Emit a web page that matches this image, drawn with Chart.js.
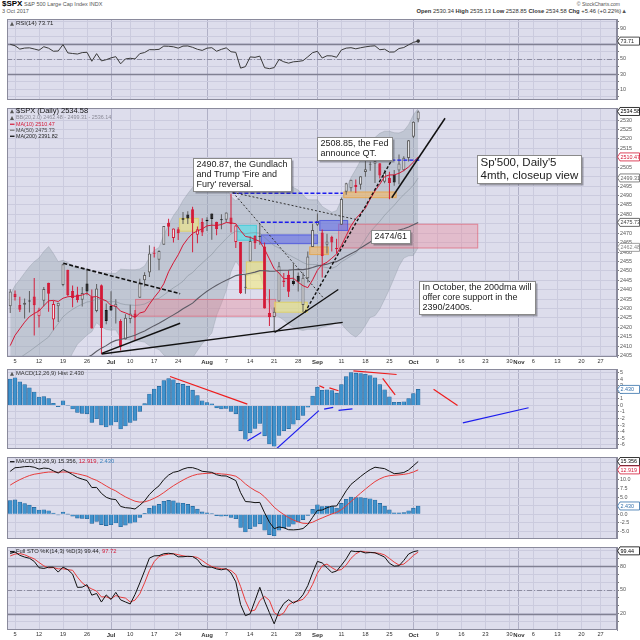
<!DOCTYPE html>
<html>
<head>
<meta charset="utf-8">
<title>$SPX Daily</title>
<script src="https://cdn.jsdelivr.net/npm/chart.js@4.4.1/dist/chart.umd.min.js"></script>
<style>
  html, body { margin: 0; padding: 0; background: #fff; }
  body { position: relative; width: 640px; height: 640px; overflow: hidden; font-family: "Liberation Sans", Arial, sans-serif; }
  canvas { position: absolute; left: 0; }
  .hd { position: absolute; white-space: nowrap; color: #555; line-height: 1; }
</style>
</head>
<body>
<div class="hd" style="left:2px;top:0px;font-size:5.5px"><b style="font-size:8px;color:#000">$SPX</b> S&amp;P 500 Large Cap Index INDX</div>
<div class="hd" style="left:2px;top:8.5px;font-size:5.5px">3 Oct 2017</div>
<div class="hd" style="right:20px;top:1.5px;font-size:5px">&copy; StockCharts.com</div>
<div class="hd" style="right:13px;top:8.5px;font-size:5.8px;color:#333"><b>Open</b> 2530.34 <b>High</b> 2535.13 <b>Low</b> 2528.85 <b>Close</b> 2534.58 <b>Chg</b> +5.46 (+0.22%)<span style="color:#555">&#9650;</span></div>

<canvas id="rsiChart" width="640" height="89" style="top:15px"></canvas>
<canvas id="priceChart" width="640" height="261" style="top:104px"></canvas>
<canvas id="histChart" width="640" height="88" style="top:365px"></canvas>
<canvas id="macdChart" width="640" height="90" style="top:453px"></canvas>
<canvas id="stoChart" width="640" height="97" style="top:543px"></canvas>

<script>
// ---------- data: $SPX daily, 2 Jun .. 3 Oct 2017 (trading-day index -1 .. 84) ----------
const firstIdx = -1;
const closeBefore = 2430.06; // 1 Jun close, used for candle colouring

const opens = [2431.28, 2437.83, 2431.92, 2432.03, 2434.27, 2436.39, 2425.88, 2434.15, 2443.75, 2424.14,
  2431.24, 2442.55, 2450.66, 2439.31, 2437.40, 2434.65, 2443.32, 2436.34, 2428.70, 2442.38,
  2429.20, 2431.39, 2430.78, 2423.44, 2413.52, 2424.51, 2427.35, 2435.75, 2444.99, 2449.16,
  2459.50, 2455.88, 2463.85, 2475.56, 2467.40, 2472.04, 2477.88, 2479.97, 2482.76, 2469.12,
  2475.94, 2477.10, 2480.38, 2476.03, 2476.88, 2477.14, 2478.35, 2465.35, 2465.38, 2441.04,
  2454.96, 2468.66, 2468.63, 2462.95, 2427.64, 2425.50, 2433.75, 2444.88, 2447.91, 2444.72,
  2447.35, 2431.94, 2446.06, 2462.65, 2474.42, 2470.35, 2463.83, 2468.06, 2462.25, 2474.52,
  2491.94, 2493.89, 2494.56, 2495.67, 2502.51, 2506.29, 2506.84, 2507.16, 2497.26, 2499.39,
  2501.04, 2503.30, 2503.41, 2509.96, 2521.20, 2530.34];
const highs = [2440.23, 2439.54, 2436.21, 2435.28, 2439.27, 2446.20, 2430.38, 2441.49, 2443.75, 2433.95,
  2433.15, 2453.82, 2450.66, 2442.23, 2441.62, 2441.40, 2450.42, 2440.15, 2442.97, 2442.73,
  2432.71, 2439.17, 2434.90, 2424.28, 2426.92, 2432.00, 2429.30, 2445.76, 2449.32, 2463.54,
  2462.82, 2460.92, 2473.83, 2477.62, 2472.54, 2473.10, 2481.24, 2481.69, 2484.04, 2473.53,
  2477.96, 2478.51, 2480.38, 2476.03, 2480.00, 2480.95, 2490.87, 2474.41, 2465.38, 2448.09,
  2468.22, 2468.90, 2474.93, 2465.02, 2440.27, 2430.58, 2454.77, 2448.91, 2450.39, 2453.96,
  2449.12, 2449.19, 2460.31, 2475.01, 2480.38, 2471.97, 2469.64, 2468.62, 2467.11, 2488.95,
  2496.77, 2498.37, 2498.43, 2500.23, 2508.32, 2507.84, 2508.85, 2507.16, 2503.47, 2502.54,
  2503.51, 2511.75, 2510.81, 2519.44, 2529.23, 2535.13];
const lows = [2427.71, 2434.32, 2428.12, 2424.75, 2427.94, 2415.70, 2419.97, 2431.28, 2428.34, 2418.53,
  2422.88, 2441.79, 2436.60, 2430.74, 2433.27, 2431.11, 2437.03, 2419.38, 2428.02, 2405.70,
  2421.65, 2428.69, 2422.05, 2407.70, 2413.52, 2422.27, 2412.79, 2435.75, 2441.69, 2446.69,
  2457.16, 2450.34, 2463.85, 2468.43, 2465.06, 2466.32, 2474.91, 2474.94, 2459.93, 2464.66,
  2468.53, 2471.14, 2466.48, 2468.85, 2472.08, 2475.88, 2470.32, 2462.08, 2437.75, 2437.85,
  2454.96, 2461.61, 2463.86, 2430.01, 2420.69, 2417.35, 2433.67, 2441.42, 2436.19, 2442.22,
  2439.03, 2428.20, 2443.77, 2462.65, 2473.85, 2446.55, 2459.20, 2460.29, 2459.40, 2474.52,
  2490.37, 2492.14, 2491.35, 2493.16, 2499.92, 2503.19, 2496.67, 2499.00, 2496.54, 2488.03,
  2495.12, 2495.91, 2502.93, 2507.99, 2520.40, 2528.85];
const closes = [2439.07, 2436.10, 2429.33, 2433.14, 2433.79, 2431.77, 2429.39, 2440.35, 2437.92, 2432.46,
  2433.15, 2453.46, 2437.03, 2435.61, 2434.50, 2438.30, 2439.07, 2419.38, 2440.69, 2419.70,
  2423.41, 2429.01, 2432.54, 2409.75, 2425.18, 2427.43, 2425.53, 2443.25, 2447.83, 2459.27,
  2459.14, 2460.61, 2473.83, 2473.45, 2472.54, 2469.91, 2477.13, 2477.83, 2475.42, 2472.10,
  2470.30, 2476.35, 2477.57, 2472.16, 2476.83, 2480.91, 2474.92, 2474.02, 2438.21, 2441.32,
  2465.84, 2464.61, 2468.11, 2430.01, 2425.55, 2428.37, 2452.51, 2444.04, 2438.97, 2443.05,
  2444.24, 2446.30, 2457.59, 2471.65, 2476.55, 2457.85, 2465.54, 2465.10, 2461.43, 2488.11,
  2496.48, 2498.37, 2495.62, 2500.23, 2503.87, 2506.65, 2508.24, 2500.60, 2502.22, 2496.66,
  2496.84, 2507.04, 2510.06, 2519.36, 2529.12, 2534.58];

const bbUpper = [2437.3, 2442.2, 2445.4, 2448.9, 2452.2, 2454.9, 2456.8, 2460.3, 2462.9, 2459.2,
  2454.9, 2455.6, 2454.4, 2452.7, 2451.2, 2451.1, 2450.9, 2449.9, 2448.0, 2449.0,
  2448.9, 2448.7, 2448.7, 2450.9, 2450.7, 2450.6, 2450.6, 2451.0, 2452.6, 2457.1,
  2460.9, 2462.4, 2469.0, 2474.6, 2479.3, 2482.8, 2487.4, 2491.0, 2494.3, 2495.9,
  2496.9, 2498.7, 2500.4, 2497.3, 2496.1, 2494.6, 2489.5, 2487.1, 2489.7, 2492.2,
  2492.1, 2492.0, 2491.7, 2495.5, 2498.6, 2500.2, 2498.6, 2497.0, 2495.7, 2494.3,
  2492.9, 2490.3, 2487.8, 2487.7, 2487.7, 2484.2, 2482.6, 2481.1, 2482.0, 2487.7,
  2493.7, 2499.5, 2503.9, 2508.6, 2512.5, 2516.0, 2520.8, 2523.0, 2524.1, 2524.1,
  2523.3, 2523.2, 2524.2, 2527.6, 2532.8, 2536.2];
const bbMid = [2400.5, 2402.3, 2403.8, 2405.6, 2407.3, 2409.2, 2411.1, 2413.0, 2414.9, 2418.7,
  2422.0, 2425.6, 2427.8, 2429.6, 2431.1, 2432.3, 2433.5, 2433.8, 2435.2, 2434.7,
  2433.9, 2433.6, 2433.7, 2432.6, 2432.1, 2431.9, 2431.7, 2431.9, 2432.4, 2433.7,
  2435.0, 2435.4, 2437.2, 2439.1, 2441.0, 2442.6, 2444.5, 2447.4, 2449.1, 2451.8,
  2454.1, 2456.5, 2458.7, 2461.8, 2464.4, 2467.1, 2469.6, 2471.1, 2470.6, 2469.7,
  2470.1, 2470.3, 2470.0, 2467.8, 2465.5, 2463.4, 2462.1, 2460.5, 2458.6, 2457.2,
  2455.9, 2454.4, 2453.4, 2453.4, 2453.3, 2452.2, 2451.7, 2451.3, 2452.4, 2454.8,
  2456.3, 2458.0, 2459.4, 2462.9, 2466.8, 2470.7, 2473.5, 2476.3, 2479.5, 2482.2,
  2484.8, 2487.8, 2490.5, 2492.8, 2495.5, 2499.3];
const bbLower = [2363.7, 2362.4, 2362.2, 2362.3, 2362.4, 2363.5, 2365.4, 2365.8, 2366.8, 2378.1,
  2389.2, 2395.6, 2401.2, 2406.5, 2411.1, 2413.5, 2416.0, 2417.7, 2422.5, 2420.4,
  2418.9, 2418.5, 2418.7, 2414.3, 2413.6, 2413.3, 2412.9, 2412.7, 2412.2, 2410.3,
  2409.1, 2408.3, 2405.4, 2403.6, 2402.7, 2402.3, 2401.5, 2403.8, 2403.9, 2407.7,
  2411.3, 2414.2, 2417.0, 2426.4, 2432.7, 2439.6, 2449.6, 2455.1, 2451.6, 2447.2,
  2448.0, 2448.5, 2448.3, 2440.1, 2432.3, 2426.6, 2425.6, 2423.9, 2421.6, 2420.1,
  2418.9, 2418.4, 2419.0, 2419.0, 2419.0, 2420.2, 2420.8, 2421.4, 2422.9, 2421.9,
  2418.9, 2416.5, 2414.9, 2417.2, 2421.1, 2425.4, 2426.2, 2429.7, 2434.9, 2440.3,
  2446.3, 2452.5, 2456.8, 2458.0, 2458.2, 2462.4];
const ma10 = [2410.33, 2415.77, 2419.30, 2422.77, 2425.71, 2427.38, 2428.74, 2431.49, 2434.10, 2434.34,
  2433.75, 2435.49, 2436.26, 2436.51, 2436.58, 2437.23, 2438.20, 2436.10, 2436.38, 2435.10,
  2434.12, 2431.67, 2431.22, 2428.64, 2427.71, 2426.62, 2425.26, 2427.65, 2428.36, 2432.32,
  2435.89, 2439.05, 2443.18, 2449.55, 2454.28, 2458.53, 2463.69, 2467.14, 2469.90, 2471.18,
  2472.30, 2473.88, 2474.26, 2474.13, 2474.56, 2475.66, 2475.44, 2475.06, 2471.34, 2468.26,
  2467.81, 2466.63, 2465.68, 2461.46, 2456.34, 2451.09, 2448.85, 2445.85, 2445.93, 2446.11,
  2443.95, 2442.12, 2441.07, 2445.24, 2450.34, 2453.29, 2454.59, 2456.70, 2458.94, 2463.44,
  2468.67, 2473.88, 2477.68, 2480.53, 2483.26, 2488.14, 2492.41, 2495.96, 2500.04, 2500.90,
  2500.93, 2501.79, 2503.24, 2505.16, 2507.68, 2510.47];
const ma50Start = 15;
const ma50 = [2403.98, 2405.39, 2407.36, 2408.99, 2410.34, 2411.95, 2413.12, 2413.54, 2414.30, 2415.07,
  2415.89, 2416.99, 2418.13, 2419.55, 2420.94, 2422.17, 2423.66, 2425.19, 2426.65, 2428.16,
  2429.88, 2431.39, 2432.88, 2435.19, 2437.28, 2439.17, 2440.84, 2442.32, 2443.77, 2445.08,
  2446.27, 2447.49, 2448.02, 2448.24, 2448.77, 2449.34, 2450.12, 2450.06, 2449.89, 2449.83,
  2450.29, 2450.36, 2450.38, 2450.59, 2450.81, 2450.67, 2451.08, 2451.80, 2452.65, 2453.04,
  2453.57, 2454.48, 2454.89, 2456.26, 2457.72, 2459.11, 2460.37, 2462.18, 2463.76, 2465.34,
  2467.00, 2468.14, 2469.23, 2469.98, 2470.73, 2471.66, 2472.39, 2473.30, 2474.44, 2475.73];

const rsi14 = [69.5, 67.6, 63.1, 64.5, 64.8, 63.3, 61.6, 66.3, 64.3, 60.3,
  60.6, 69.1, 58.1, 57.3, 56.6, 58.5, 58.9, 47.0, 57.1, 47.5,
  49.1, 51.5, 53.1, 43.6, 50.1, 51.0, 50.1, 57.1, 58.6, 62.4,
  62.3, 62.8, 67.1, 66.9, 66.2, 64.4, 67.1, 67.3, 65.5, 62.9,
  61.4, 64.4, 65.0, 60.3, 62.8, 64.8, 59.6, 58.8, 37.9, 39.9,
  52.8, 52.2, 53.8, 38.5, 37.2, 38.6, 49.4, 46.3, 44.5, 46.3,
  46.8, 47.8, 52.9, 58.4, 60.2, 51.3, 54.3, 54.1, 52.3, 62.0,
  64.4, 65.0, 63.5, 64.9, 66.1, 67.0, 67.5, 62.3, 63.0, 59.2,
  59.3, 63.9, 65.2, 68.8, 72.1, 73.7];

const macdLine = [12.51, 13.55, 13.66, 13.87, 13.93, 13.69, 13.15, 13.45, 13.33, 12.64,
  12.01, 13.01, 12.33, 11.54, 10.71, 10.24, 9.82, 7.80, 7.83, 6.10,
  4.96, 4.45, 4.29, 2.30, 1.94, 1.82, 1.55, 2.65, 3.91, 5.78,
  7.16, 8.28, 10.11, 11.41, 12.22, 12.51, 13.16, 13.58, 13.57, 13.14,
  12.51, 12.36, 12.20, 11.51, 11.20, 11.15, 10.51, 9.81, 6.30, 3.72,
  3.62, 3.40, 3.47, 0.44, -2.28, -4.16, -3.67, -3.92, -4.47, -4.52,
  -4.42, -4.13, -2.95, -0.87, 1.17, 1.25, 1.91, 2.38, 2.42, 4.55,
  6.84, 8.71, 9.85, 11.00, 12.07, 13.00, 13.70, 13.49, 13.29, 12.54,
  11.83, 11.94, 12.15, 12.91, 14.13, 15.36];
const macdSignal = [8.49, 9.35, 10.08, 10.72, 11.27, 11.66, 11.88, 12.12, 12.29, 12.31,
  12.21, 12.32, 12.28, 12.09, 11.79, 11.45, 11.10, 10.41, 9.87, 9.09,
  8.24, 7.46, 6.81, 5.89, 5.08, 4.41, 3.82, 3.55, 3.62, 4.05,
  4.67, 5.39, 6.33, 7.35, 8.32, 9.16, 9.96, 10.68, 11.26, 11.64,
  11.81, 11.92, 11.98, 11.89, 11.75, 11.63, 11.41, 11.09, 10.13, 8.85,
  7.80, 6.92, 6.23, 5.07, 3.60, 2.05, 0.91, -0.06, -0.94, -1.66,
  -2.21, -2.59, -2.66, -2.30, -1.61, -1.04, -0.45, 0.12, 0.58, 1.37,
  2.47, 3.72, 4.95, 6.16, 7.34, 8.47, 9.52, 10.31, 10.91, 11.24,
  11.36, 11.48, 11.61, 11.87, 12.32, 12.93];
const macdHist = [4.02, 4.20, 3.58, 3.15, 2.66, 2.03, 1.27, 1.33, 1.04, 0.33,
  -0.20, 0.69, 0.05, -0.55, -1.08, -1.21, -1.28, -2.61, -2.04, -2.99,
  -3.28, -3.01, -2.52, -3.59, -3.14, -2.59, -2.27, -0.90, 0.29, 1.73,
  2.49, 2.89, 3.78, 4.06, 3.90, 3.35, 3.20, 2.90, 2.31, 1.50,
  0.70, 0.44, 0.22, -0.38, -0.55, -0.48, -0.90, -1.28, -3.83, -5.13,
  -4.18, -3.52, -2.76, -4.63, -5.88, -6.21, -4.58, -3.86, -3.53, -2.86,
  -2.21, -1.54, -0.29, 1.43, 2.78, 2.29, 2.36, 2.26, 1.84, 3.18,
  4.37, 4.99, 4.90, 4.84, 4.73, 4.53, 4.18, 3.18, 2.38, 1.30,
  0.47, 0.46, 0.54, 1.04, 1.81, 2.43];

const stoK = [96.1, 98.0, 93.8, 91.6, 90.1, 86.1, 78.1, 77.2, 78.8, 78.8,
  72.6, 78.9, 75.7, 70.0, 53.3, 53.6, 56.7, 43.5, 45.6, 34.8,
  43.8, 38.1, 47.0, 37.5, 34.9, 32.4, 44.3, 58.9, 74.2, 90.3,
  93.1, 93.4, 95.8, 96.4, 95.6, 91.9, 92.0, 92.6, 92.2, 88.5,
  80.9, 79.0, 78.8, 76.6, 75.5, 76.9, 71.4, 60.3, 31.6, 17.6,
  20.0, 36.6, 53.4, 35.9, 21.4, 7.3, 23.3, 33.0, 37.8, 33.5,
  37.0, 44.0, 55.6, 71.5, 86.1, 84.2, 78.2, 72.1, 73.9, 81.3,
  89.3, 99.4, 98.5, 98.7, 96.8, 97.3, 97.0, 94.4, 91.6, 83.8,
  80.1, 80.6, 87.3, 95.4, 98.4, 99.6];
const stoD = [93.0, 95.4, 96.0, 94.5, 91.8, 89.3, 84.8, 80.5, 78.0, 78.3,
  76.7, 76.8, 75.7, 74.9, 66.3, 59.0, 54.5, 51.3, 48.6, 41.3,
  41.4, 38.9, 43.0, 40.9, 39.8, 34.9, 37.2, 45.2, 59.1, 74.5,
  85.9, 92.3, 94.1, 95.2, 95.9, 94.6, 93.2, 92.2, 92.3, 91.1,
  87.2, 82.8, 79.6, 78.1, 77.0, 76.3, 74.6, 69.5, 54.4, 36.5,
  23.1, 24.7, 36.7, 42.0, 36.9, 21.5, 17.3, 21.2, 31.4, 34.8,
  36.1, 38.2, 45.5, 57.0, 71.1, 80.6, 82.8, 78.2, 74.7, 75.8,
  81.5, 90.0, 95.7, 98.9, 98.0, 97.6, 97.0, 96.2, 94.3, 89.9,
  85.2, 81.5, 82.7, 87.8, 93.7, 97.8];

// ---------- axis ticks ----------
const xTickIdx = [0, 5, 10, 15, 20, 24, 29, 34, 40, 44, 49, 54, 59, 63, 68, 73, 78, 83, 88, 93, 98, 103, 105, 108, 113, 118, 122];
const xTickLabels = ['5', '12', '19', '26', 'Jul', '10', '17', '24', 'Aug', '7', '14', '21', '28', 'Sep', '11', '18', '25', 'Oct', '9', '16', '23', '30', 'Nov', '6', '13', '20', '27'];
const monthTickIdx = [20, 40, 63, 83, 105];
const priceTicks = [2405, 2410, 2415, 2420, 2425, 2430, 2435, 2440, 2445, 2450, 2455, 2460, 2465,
  2470, 2475, 2480, 2485, 2490, 2495, 2500, 2505, 2510, 2515, 2520, 2525, 2530];
const rsiTicks = [0, 10, 20, 30, 40, 50, 60, 70, 80, 90, 100];
const rsiLabels = [10, 30, 50, 70, 90];
const histTicks = [-6, -5, -4, -3, -2, -1, 0, 1, 2, 3, 4, 5];
const macdTicks = [-5, -2.5, 0, 2.5, 5, 7.5, 10, 12.5, 15];
const stoTicks = [10, 20, 30, 40, 50, 60, 70, 80, 90, 100];
const stoLabels = [20, 50, 80];

// ---------- hand-drawn annotations (index / value units) ----------
const RED = 'rgb(212,24,54)';
const LBLUE = 'rgb(50,110,170)';
const priceLines = [
  { a: [10.06, 2454.0], b: [34.4, 2437.9], c: '#111', w: 1.6, d: [4, 2] },
  { a: [18.06, 2406.2], b: [34.4, 2422.2], c: '#111', w: 1.5 },
  { a: [18.06, 2405.9], b: [68.27, 2422.7], c: '#111', w: 1.3 },
  { a: [54.1, 2417.3], b: [67.35, 2440.1], c: '#111', w: 1.4 },
  { a: [60.4, 2428.0], b: [78.5, 2508.8], c: '#111', w: 1.4, d: [3, 2] },
  { a: [78.5, 2488.8], b: [89.6, 2531.0], c: '#111', w: 1.5 },
  { a: [45.4, 2491.6], b: [71.2, 2477.2], c: '#333', w: 1, d: [2, 2] },
  { a: [45.4, 2491.6], b: [64.2, 2435.8], c: '#333', w: 1, d: [2, 2] },
  { a: [45.3, 2491.2], b: [68.3, 2491.2], c: '#1c1cee', w: 1.3, d: [4, 2] },
  { a: [51.2, 2475.8], b: [63.4, 2475.8], c: '#1c1cee', w: 1.3, d: [4, 2] },
  { a: [73.4, 2508.8], b: [84.4, 2508.8], c: '#1c1cee', w: 1.3, d: [4, 2] }
];
const PINK = ['rgba(236,120,140,0.33)', 'rgba(220,90,110,0.55)'];
const YELLOW = ['rgba(246,236,120,0.55)', 'rgba(220,200,80,0.6)'];
const ORANGE = ['rgba(245,185,100,0.6)', 'rgba(225,160,70,0.7)'];
const priceRects = [
  { x0: 25, x1: 54.4, y0: 2425.7, y1: 2435.1, k: PINK },
  { x0: 67.3, x1: 96.5, y0: 2461.9, y1: 2475.0, k: PINK },
  { x0: 34.2, x1: 38.3, y0: 2470.8, y1: 2478.1, k: YELLOW },
  { x0: 46.2, x1: 50.4, y0: 2466.0, y1: 2474.4, k: ['rgba(80,225,235,0.6)', 'rgba(60,200,215,0.7)'] },
  { x0: 51.2, x1: 63.1, y0: 2464.2, y1: 2469.3, k: ['rgba(90,100,235,0.55)', 'rgba(70,80,220,0.7)'] },
  { x0: 63.4, x1: 69.4, y0: 2471.2, y1: 2477.0, k: ['rgba(90,100,235,0.55)', 'rgba(70,80,220,0.7)'] },
  { x0: 48.1, x1: 52.3, y0: 2440.4, y1: 2455.0, k: YELLOW },
  { x0: 54.0, x1: 61.0, y0: 2427.8, y1: 2433.6, k: YELLOW },
  { x0: 61.3, x1: 65.4, y0: 2458.4, y1: 2462.9, k: ORANGE },
  { x0: 68.4, x1: 79.5, y0: 2488.6, y1: 2492.1, k: ORANGE }
];
const priceNotes = [
  { x: 37.08, y: 2509.7, size: 9, lh: 9.8, lines: ['2490.87, the Gundlach', "and Trump 'Fire and", "Fury' reversal."] },
  { x: 62.92, y: 2521.2, size: 9, lh: 9.8, lines: ['2508.85, the Fed', 'announce QT.'] },
  { x: 96.25, y: 2511.3, size: 11.5, lh: 12.5, lines: ["Sp'500, Daily'5", '4mth, closeup view'] },
  { x: 74.17, y: 2471.6, size: 9, lh: 10, lines: ['2474/61'] },
  { x: 84.17, y: 2444.5, size: 9, lh: 9.8, lines: ['In October, the 200dma will', 'offer core support in the', '2390/2400s.'] }
];
const histLines = [
  { a: [32.3, 4.4], b: [48.4, 0.2], c: '#ee1c1c' },
  { a: [48.4, -5.42], b: [51.3, -4.13], c: '#1c1cee' },
  { a: [54.5, -6.58], b: [63.3, -0.8], c: '#1c1cee' },
  { a: [63.4, 2.98], b: [64.4, 2.67], c: '#ee1c1c' },
  { a: [65.5, 2.67], b: [67.4, 2.22], c: '#ee1c1c' },
  { a: [64.4, -0.58], b: [66.3, -0.31], c: '#1c1cee' },
  { a: [67.4, -0.76], b: [70.3, -0.53], c: '#1c1cee' },
  { a: [70.5, 5.25], b: [79.5, 4.7], c: '#ee1c1c' },
  { a: [76.6, 4.1], b: [79.2, 1.6], c: '#ee1c1c' },
  { a: [87.2, 2.44], b: [92.2, 0], c: '#ee1c1c' },
  { a: [93.3, -2.67], b: [107, -0.36], c: '#1c1cee' }
];

// ---------- look ----------
const FONT = '"Liberation Sans", Arial, sans-serif';
const PANEL_BG = 'rgb(221,221,236)';
const GRID = 'rgb(203,203,222)';
const GRID_MONTH = 'rgb(176,176,198)';
const FRAME = 'rgb(138,138,156)';
const X_MIN = -1.67, X_MAX = 125.42;

const xLabelOf = {};
xTickIdx.forEach((v, i) => { xLabelOf[v] = xTickLabels[i]; });
const isMonth = c => !!(c.tick && monthTickIdx.includes(c.tick.value));
const pts = (arr, start) => arr.map((v, i) => ({ x: start + i, y: v }));

function xAxis(labelHeight) {
  return {
    type: 'linear', min: X_MIN, max: X_MAX, offset: false,
    afterBuildTicks: ax => { ax.ticks = xTickIdx.map(v => ({ value: v })); },
    afterFit: ax => { ax.height = labelHeight; },
    grid: { offset: false, drawTicks: false, lineWidth: 1, color: c => isMonth(c) ? GRID_MONTH : GRID },
    border: { display: false },
    ticks: {
      display: labelHeight > 0, autoSkip: false, maxRotation: 0, padding: 1.5, color: '#333',
      font: c => ({ family: FONT, size: isMonth(c) ? 6 : 5.6, weight: isMonth(c) ? 'bold' : 'normal' }),
      callback: v => xLabelOf[v] || ''
    }
  };
}

function yAxis(min, max, ticks, shown, fmt) {
  return {
    type: 'linear', position: 'right', min: min, max: max,
    afterBuildTicks: ax => { ax.ticks = ticks.map(v => ({ value: v })); },
    afterFit: ax => { ax.width = 23; },
    grid: { color: GRID, drawTicks: true, tickLength: 2, tickColor: '#777' },
    border: { display: true, color: FRAME },
    ticks: { autoSkip: false, padding: 1, color: '#555', font: { family: FONT, size: 5.4 },
      callback: v => shown.includes(v) ? fmt(v) : '' }
  };
}

function baseOptions(xLabelHeight, y) {
  return {
    responsive: false, animation: false, events: [],
    layout: { padding: { left: 7, right: 0, top: 0, bottom: 0 }, autoPadding: false },
    plugins: { legend: { display: false }, tooltip: { enabled: false } },
    scales: { x: xAxis(xLabelHeight), y: y }
  };
}

function lineDs(l, order) {
  return {
    type: 'line', data: [{ x: l.a[0], y: l.a[1] }, { x: l.b[0], y: l.b[1] }],
    borderColor: l.c, borderWidth: l.w || 1.2, borderDash: l.d || [], pointRadius: 0, order: order
  };
}

// panel background, level lines, boxes, notes, legend text, value tags
function panelDecor(cfg) {
  return {
    id: 'panelDecor',
    beforeDraw(chart) {
      const { ctx, chartArea: a } = chart;
      ctx.save();
      ctx.fillStyle = PANEL_BG;
      ctx.fillRect(a.left, a.top, a.right - a.left, a.bottom - a.top);
      ctx.restore();
    },
    beforeDatasetsDraw(chart) {
      const { ctx, chartArea: a } = chart;
      const y = chart.scales.y;
      ctx.save();
      (cfg.levels || []).forEach(l => {
        const py = Math.round(y.getPixelForValue(l.v)) + 0.5;
        ctx.strokeStyle = l.c; ctx.lineWidth = l.w; ctx.setLineDash(l.d || []);
        ctx.beginPath(); ctx.moveTo(a.left, py); ctx.lineTo(a.right, py); ctx.stroke();
      });
      ctx.restore();
    },
    afterDatasetDraw(chart, args) {
      if (!cfg.rects || args.index !== cfg.rectsAfter) return;
      const { ctx, chartArea: a } = chart;
      const x = chart.scales.x, y = chart.scales.y;
      ctx.save();
      ctx.beginPath(); ctx.rect(a.left, a.top, a.right - a.left, a.bottom - a.top); ctx.clip();
      cfg.rects.forEach(r => {
        const x0 = x.getPixelForValue(r.x0), x1 = x.getPixelForValue(r.x1);
        const y0 = y.getPixelForValue(r.y1), y1 = y.getPixelForValue(r.y0);
        ctx.fillStyle = r.k[0];
        ctx.fillRect(x0, y0, x1 - x0, y1 - y0);
        ctx.strokeStyle = r.k[1]; ctx.lineWidth = 1;
        ctx.strokeRect(x0 + 0.5, y0 + 0.5, x1 - x0 - 1, y1 - y0 - 1);
      });
      ctx.restore();
    },
    afterDatasetsDraw(chart) {
      const { ctx } = chart;
      const x = chart.scales.x, y = chart.scales.y;
      (cfg.notes || []).forEach(n => {
        const px = Math.round(x.getPixelForValue(n.x)) + 0.5, py = Math.round(y.getPixelForValue(n.y)) + 0.5;
        ctx.save();
        ctx.font = n.size + 'px ' + FONT;
        const w = Math.ceil(Math.max(...n.lines.map(t => ctx.measureText(t).width))) + 6;
        const h = Math.ceil(n.lines.length * n.lh) + 3;
        ctx.fillStyle = 'rgba(70,70,80,0.45)';
        ctx.fillRect(px + 2, py + 2, w, h);
        ctx.fillStyle = '#fff';
        ctx.fillRect(px, py, w, h);
        ctx.strokeStyle = '#8a8a8a'; ctx.lineWidth = 1;
        ctx.strokeRect(px, py, w, h);
        ctx.fillStyle = '#222'; ctx.textBaseline = 'top';
        n.lines.forEach((t, i) => ctx.fillText(t, px + 3, py + 2 + i * n.lh));
        ctx.restore();
      });
    },
    afterDraw(chart) {
      const { ctx, chartArea: a } = chart;
      const y = chart.scales.y;
      ctx.save();
      ctx.strokeStyle = FRAME; ctx.lineWidth = 1;
      ctx.strokeRect(Math.round(a.left) + 0.5, Math.round(a.top) + 0.5, Math.round(a.right - a.left) - 1, Math.round(a.bottom - a.top) - 1);
      // legend lines
      ctx.textBaseline = 'middle';
      (cfg.legend || []).forEach(ln => {
        const ly = a.top + ln.dy;
        let lx = a.left + 3;
        if (ln.g === 'icon') {
          ctx.fillStyle = '#555';
          ctx.beginPath(); ctx.moveTo(lx, ly + 2); ctx.lineTo(lx + 2, ly - 2); ctx.lineTo(lx + 4, ly + 2); ctx.closePath(); ctx.fill();
        } else {
          ctx.strokeStyle = ln.gc; ctx.lineWidth = 1.2;
          ctx.beginPath(); ctx.moveTo(lx, ly); ctx.lineTo(lx + 4.5, ly); ctx.stroke();
        }
        lx += 6;
        ctx.font = ln.size + 'px ' + FONT;
        ln.segs.forEach(s => { ctx.fillStyle = s.c; ctx.fillText(s.t, lx, ly); lx += ctx.measureText(s.t).width; });
      });
      // value tags on the right axis
      (cfg.boxes || []).forEach(b => {
        const py = y.getPixelForValue(b.v), x0 = a.right + 0.5, hh = 4;
        ctx.beginPath();
        ctx.moveTo(x0, py); ctx.lineTo(x0 + 2.5, py - hh); ctx.lineTo(639.5, py - hh);
        ctx.lineTo(639.5, py + hh); ctx.lineTo(x0 + 2.5, py + hh); ctx.closePath();
        ctx.fillStyle = '#fff'; ctx.fill();
        ctx.strokeStyle = b.c; ctx.lineWidth = 0.8; ctx.stroke();
        ctx.fillStyle = b.c; ctx.font = '5.4px ' + FONT;
        ctx.fillText(b.t, x0 + 3, py + 0.3);
      });
      ctx.restore();
    }
  };
}

const levelLine = v => ({ v: v, c: 'rgb(128,128,146)', w: 1.3 });
const midLine = v => ({ v: v, c: 'rgb(140,140,160)', w: 1, d: [5, 2, 1, 2] });

// ---------- RSI ----------
new Chart(document.getElementById('rsiChart'), {
  type: 'line',
  data: { datasets: [{
    data: pts(rsi14, firstIdx), borderColor: '#3a3a3a', borderWidth: 1,
    pointRadius: c => c.dataIndex === rsi14.length - 1 ? 1.8 : 0, pointBackgroundColor: '#333', pointBorderWidth: 0
  }] },
  options: baseOptions(0, yAxis(-4, 102.7, rsiTicks, rsiLabels, v => String(v))),
  plugins: [panelDecor({
    levels: [levelLine(70), levelLine(30), midLine(50)],
    legend: [{ g: 'icon', size: 6, dy: 4.5, segs: [{ t: 'RSI(14) 73.71', c: '#222' }] }],
    boxes: [{ v: 73.71, t: '73.71', c: '#222' }]
  })]
});

// ---------- price: candles, BB, MAs ----------
const prevClose = closes.map((c, i) => i === 0 ? closeBefore : closes[i - 1]);
const candleCol = closes.map((c, i) => c < prevClose[i] ? RED : '#111');
const hollow = closes.map((c, i) => c > opens[i]);
const bodyFill = candleCol.map((col, i) => hollow[i] ? 'rgba(243,243,248,0.95)' : col);
const bodyEdge = candleCol.map((col, i) => hollow[i] ? (col === RED ? RED : '#5a5a5a') : col);
const wickCol = candleCol.map(col => col === RED ? RED : '#5a5a5a');
const bodies = closes.map((c, i) => ({ x: firstIdx + i, y: [opens[i], c] }));
const wicks = closes.map((c, i) => ({ x: firstIdx + i, y: [lows[i], highs[i]] }));

const priceDatasets = priceLines.map(l => lineDs(l, 0));
priceDatasets.push(
  { type: 'line', data: pts(ma10, firstIdx), borderColor: RED, borderWidth: 1, pointRadius: 0, order: 1 },
  { type: 'line', data: pts(ma50, ma50Start), borderColor: '#5c5c66', borderWidth: 1.1, pointRadius: 0, order: 2 },
  { type: 'line', data: pts(bbMid, firstIdx), borderColor: 'rgba(120,130,140,0.55)', borderWidth: 0.8, pointRadius: 0, order: 3 },
  { type: 'bar', data: bodies, backgroundColor: bodyFill, borderColor: bodyEdge, borderWidth: 1, borderSkipped: false,
    grouped: false, barPercentage: 0.8, maxBarThickness: 3.8, minBarLength: 1, order: 4 },
  { type: 'bar', data: wicks, backgroundColor: wickCol, borderWidth: 0, grouped: false,
    barPercentage: 0.25, maxBarThickness: 1, order: 5 }
);
const bbUpperIndex = priceDatasets.length;
priceDatasets.push(
  { type: 'line', data: pts(bbUpper, firstIdx), borderColor: 'rgba(140,150,160,0.5)', borderWidth: 0.7, pointRadius: 0,
    fill: '+1', backgroundColor: 'rgba(150,165,175,0.4)', order: 6 },
  { type: 'line', data: pts(bbLower, firstIdx), borderColor: 'rgba(140,150,160,0.5)', borderWidth: 0.7, pointRadius: 0, order: 6 }
);

new Chart(document.getElementById('priceChart'), {
  type: 'bar',
  data: { datasets: priceDatasets },
  options: baseOptions(8, yAxis(2404.3, 2536.3, priceTicks, priceTicks, v => String(v))),
  plugins: [panelDecor({
    rects: priceRects, rectsAfter: bbUpperIndex, notes: priceNotes,
    legend: [
      { g: 'icon', size: 7.5, dy: 3, segs: [{ t: '$SPX (Daily) 2534.58', c: '#111' }] },
      { g: 'icon', size: 5.4, dy: 9.7, segs: [{ t: 'BB(20,2.0) 2462.48 - 2499.31 - 2536.14', c: '#8a8a96' }] },
      { g: 'dash', gc: RED, size: 5.4, dy: 16, segs: [{ t: 'MA(10) 2510.47', c: RED }] },
      { g: 'dash', gc: '#777', size: 5.4, dy: 22, segs: [{ t: 'MA(50) 2475.73', c: '#444' }] },
      { g: 'dash', gc: '#000', size: 5.4, dy: 28, segs: [{ t: 'MA(200) 2391.82', c: '#222' }] }
    ],
    boxes: [
      { v: 2534.58, t: '2534.58', c: '#000' },
      { v: 2510.47, t: '2510.47', c: RED },
      { v: 2499.31, t: '2499.31', c: '#666' },
      { v: 2475.73, t: '2475.73', c: '#444' },
      { v: 2462.48, t: '2462.48', c: '#888' }
    ]
  })]
});

// ---------- MACD histogram ----------
const histDatasets = histLines.map(l => lineDs(l, 0));
histDatasets.push({ type: 'bar', data: pts(macdHist, firstIdx), backgroundColor: 'rgb(64,146,204)',
  borderColor: 'rgb(38,98,150)', borderWidth: 0.6, barThickness: 3.8, order: 1 });
new Chart(document.getElementById('histChart'), {
  type: 'bar',
  data: { datasets: histDatasets },
  options: baseOptions(0, yAxis(-6.6, 5.5, histTicks, histTicks, v => String(v))),
  plugins: [panelDecor({
    legend: [{ g: 'icon', size: 5.8, dy: 4.5, segs: [{ t: 'MACD(12,26,9) Hist 2.430', c: '#333' }] }],
    boxes: [{ v: 2.43, t: '2.430', c: LBLUE }]
  })]
});

// ---------- MACD lines ----------
new Chart(document.getElementById('macdChart'), {
  type: 'bar',
  data: { datasets: [
    { type: 'line', data: pts(macdLine, firstIdx), borderColor: '#111', borderWidth: 1, pointRadius: 0, order: 0 },
    { type: 'line', data: pts(macdSignal, firstIdx), borderColor: 'rgb(232,60,60)', borderWidth: 1, pointRadius: 0, order: 1 },
    { type: 'bar', data: pts(macdHist, firstIdx), backgroundColor: 'rgb(64,146,204)', borderColor: 'rgb(38,98,150)',
      borderWidth: 0.6, barThickness: 3.8, order: 2 }
  ] },
  options: baseOptions(0, yAxis(-7.1, 16.6, macdTicks, macdTicks, v => v.toFixed(1))),
  plugins: [panelDecor({
    legend: [{ g: 'dash', gc: '#000', size: 5.8, dy: 4.5, segs: [
      { t: 'MACD(12,26,9) 15.356,', c: '#222' }, { t: ' 12.919,', c: RED }, { t: ' 2.430', c: 'rgb(60,130,190)' }] }],
    boxes: [
      { v: 15.356, t: '15.356', c: '#000' },
      { v: 12.919, t: '12.919', c: RED },
      { v: 2.43, t: '2.430', c: LBLUE }
    ]
  })]
});

// ---------- Full stochastics ----------
new Chart(document.getElementById('stoChart'), {
  type: 'line',
  data: { datasets: [
    { data: pts(stoK, firstIdx), borderColor: '#111', borderWidth: 1, pointRadius: 0, order: 0 },
    { data: pts(stoD, firstIdx), borderColor: 'rgb(232,60,60)', borderWidth: 1, pointRadius: 0, order: 1 }
  ] },
  options: baseOptions(10, yAxis(-0.5, 104, stoTicks, stoLabels, v => String(v))),
  plugins: [panelDecor({
    levels: [levelLine(80), levelLine(20), midLine(50)],
    legend: [{ g: 'dash', gc: '#000', size: 5.8, dy: 4.5, segs: [
      { t: 'Full STO %K(14,3) %D(3) 99.44,', c: '#222' }, { t: ' 97.72', c: RED }] }],
    boxes: [{ v: 99.44, t: '99.44', c: '#000' }]
  })]
});
</script>
</body>
</html>
